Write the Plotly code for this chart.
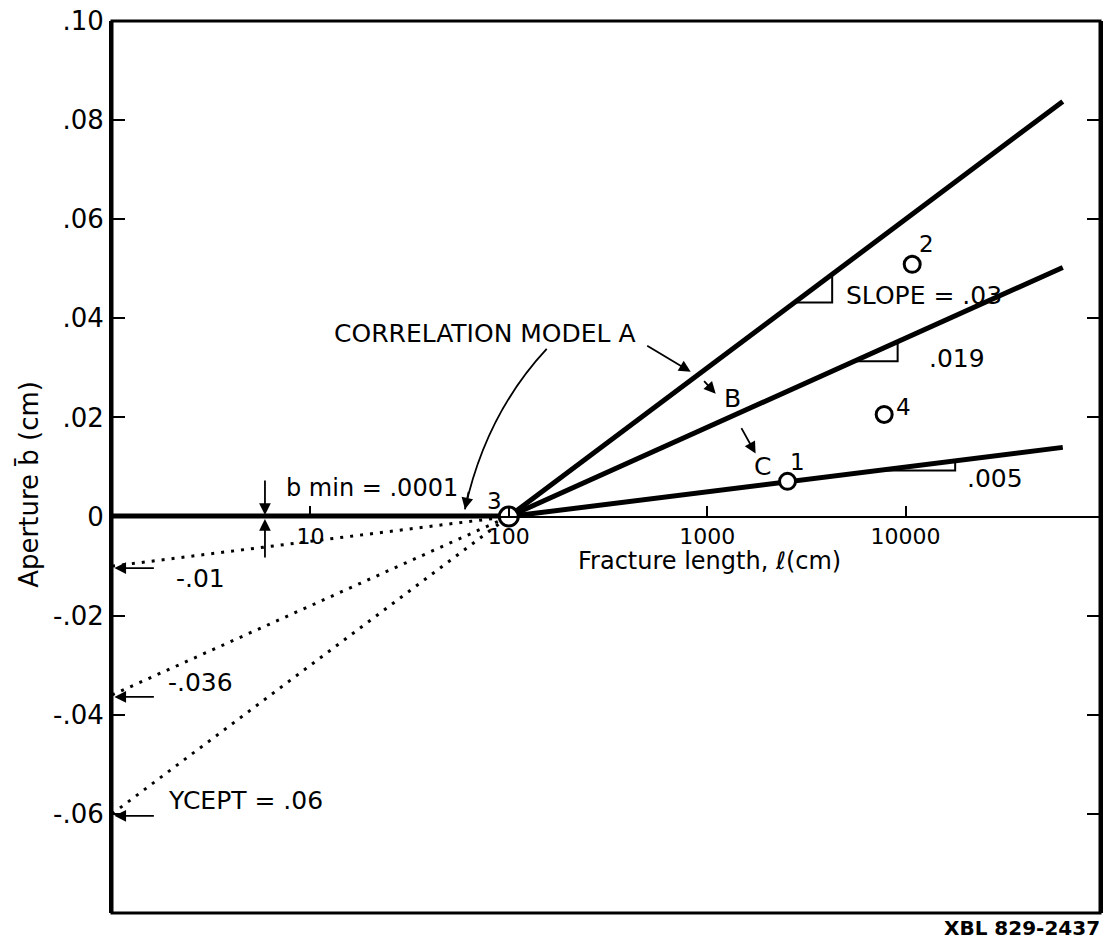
import numpy as np
import plotly.graph_objects as go

# Correlation models: aperture grows linearly with log10 of fracture length
models = ["A", "B", "C"]
slopes = [0.03, 0.018, 0.005]          # aperture change per decade of length
intercepts = [-0.06, -0.036, -0.01]    # extrapolated aperture at l = 1 cm
l_pivot = 100.0
l_start = 1.0
l_end = 62000.0
b_min = 0.0001

# Measured fractures
point_ids = ["1", "2", "3", "4"]
point_l = [2540, 10800, 100, 7800]
point_b = [0.0071, 0.0509, 0.0, 0.0206]

x_tickvals = [10, 100, 1000, 10000]
x_ticktext = ["10", "100", "1000", "10000"]
y_tickvals = [-0.06, -0.04, -0.02, 0, 0.02, 0.04, 0.06, 0.08, 0.10]
y_ticktext = ["-.06", "-.04", "-.02", "0", ".02", ".04", ".06", ".08", ".10"]

FONT = "DejaVu Sans"
INK = "black"
lg = np.log10


def model_b(slope, l):
    return slope * lg(np.asarray(l, dtype=float) / l_pivot)


fig = go.Figure()

# minimum aperture plateau below the pivot length
fig.add_trace(go.Scatter(x=[l_start, l_pivot], y=[b_min, b_min], mode="lines",
                         line=dict(color=INK, width=5), hoverinfo="skip"))

# dotted extrapolations back to l = 1 cm
for icpt in intercepts:
    fig.add_trace(go.Scatter(x=[l_start, l_pivot], y=[icpt, 0], mode="lines",
                             line=dict(color=INK, width=3, dash="3px,7px"),
                             hoverinfo="skip"))

# model lines
for s in slopes:
    xs = [l_pivot, l_end]
    fig.add_trace(go.Scatter(x=xs, y=model_b(s, xs), mode="lines",
                             line=dict(color=INK, width=5), hoverinfo="skip"))

# slope triangles (log10 length span of each leg)
tri_spans = [(3.44, 3.63), (3.74, 3.96), (3.86, 4.25)]
for s, (a, b) in zip(slopes, tri_spans):
    xa, xb = 10 ** a, 10 ** b
    ya, yb = float(model_b(s, xa)), float(model_b(s, xb))
    fig.add_trace(go.Scatter(x=[xa, xb, xb], y=[ya, ya, yb], mode="lines",
                             line=dict(color=INK, width=2), hoverinfo="skip"))

# measured points
sizes = [16, 16, 19, 16]
fig.add_trace(go.Scatter(x=point_l, y=point_b, mode="markers",
                         marker=dict(symbol="circle", size=sizes, color="white",
                                     opacity=1, line=dict(color=INK, width=3)),
                         hoverinfo="skip"))

ann = []
label_shift = {"1": (10, 19), "2": (14, 20), "3": (-14, 16), "4": (19, 7)}
for pid, l, b in zip(point_ids, point_l, point_b):
    dx, dy = label_shift[pid]
    ann.append(dict(x=lg(l), y=b, xref="x", yref="y", text=pid, showarrow=False,
                    xshift=dx, yshift=dy, font=dict(size=23, family=FONT, color=INK)))


def text(x, y, s, size=24, xanchor="left", xref="x", yref="y", angle=0):
    ann.append(dict(x=x, y=y, xref=xref, yref=yref, text=s, showarrow=False,
                    xanchor=xanchor, yanchor="middle", textangle=angle,
                    font=dict(size=size, family=FONT, color=INK)))


def arrow(x, y, ax, ay, xref="x", yref="y"):
    ann.append(dict(x=x, y=y, xref=xref, yref=yref, text="", showarrow=True,
                    ax=ax, ay=ay, arrowhead=2, arrowsize=1.3, arrowwidth=1.8,
                    arrowcolor=INK))


# labels on the model lines
text(1.108, 0.0370, "CORRELATION MODEL A", size=25)
arrow(2.917, 0.0292, -45, -27)
text(3.075, 0.0238, "B", size=25)
arrow(3.043, 0.0248, -13, -14)
text(3.225, 0.0101, "C", size=25)
arrow(3.244, 0.0127, -15, -27)
text(3.691, 0.0447, "SLOPE = .03", size=25)
text(4.108, 0.0318, ".019", size=25)
text(4.299, 0.0077, ".005", size=25)

# minimum aperture
text(0.867, 0.0057, "b min = .0001")
arrow(0.771, 0.0003, 0, -36)
arrow(0.771, -0.0005, 0, 40)

# intercept markers on the left axis
for icpt, lab, ty in zip(intercepts, ["-.01", "-.036", "YCEPT = .06"],
                         [-0.0124, -0.0335, -0.0573]):
    text(0.274 if lab != "-.01" else 0.314, ty, lab, size=25)
    arrow(0.012, icpt - 0.0004, 41, 0)

# curved leader from the model label to the plateau (paper units)
fig.add_shape(type="path", xref="paper", yref="paper",
              path="M 0.440,0.6324 Q 0.3784,0.5592 0.3572,0.4525",
              line=dict(color=INK, width=1.8))
arrow(0.3572, 0.4525, 4, -19, xref="paper", yref="paper")

# axis titles and id
text(2.339, -0.0090, "Fracture length, <i>ℓ</i>(cm)", size=24)
text(-0.0838, 0.4804, "Aperture b\u0304 (cm)", size=26, xanchor="center",
     xref="paper", yref="paper", angle=-90)
text(1.002, -0.0168, "<b>XBL 829-2437</b>", size=20, xanchor="right",
     xref="paper", yref="paper")

# frame
fig.add_shape(type="rect", xref="paper", yref="paper", x0=0, y0=0, x1=1, y1=1,
              line=dict(color=INK, width=3))

fig.update_layout(
    width=1109, height=944,
    margin=dict(l=112, r=6, t=18, b=31),
    paper_bgcolor="white", plot_bgcolor="white",
    showlegend=False,
    annotations=ann,
    font=dict(family=FONT, color=INK),
    xaxis=dict(type="log", range=[0, 4.98], anchor="free",
               position=0.08 / 0.18, showline=True, linecolor=INK, linewidth=1.5,
               ticks="inside", ticklen=10, tickwidth=1.5, tickcolor=INK,
               tickvals=x_tickvals, ticktext=x_ticktext,
               tickfont=dict(size=22, family=FONT, color=INK),
               showgrid=False, zeroline=False),
    yaxis=dict(range=[-0.08, 0.10], showline=True, linecolor=INK, linewidth=3,
               mirror="ticks", ticks="inside", ticklen=13, tickwidth=2,
               tickcolor=INK, tickvals=y_tickvals, ticktext=y_ticktext,
               tickfont=dict(size=26, family=FONT, color=INK),
               showgrid=False, zeroline=False),
)

fig.write_html("out.html")
